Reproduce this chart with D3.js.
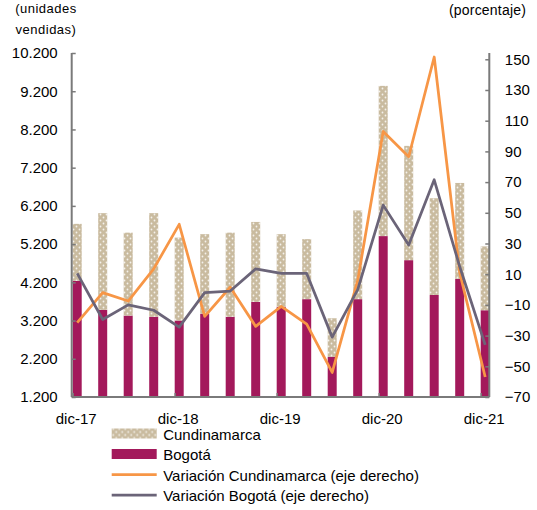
<!DOCTYPE html>
<html>
<head>
<meta charset="utf-8">
<script src="https://cdn.jsdelivr.net/npm/d3@7"></script>
<style>
  body { margin: 0; background: #fff; }
  svg { display: block; font-family: "Liberation Sans", Arial, sans-serif; fill: #000; }
</style>
</head>
<body>
<svg id="chart" width="537" height="510"></svg>
<script>
// Quarterly data, dic-17 .. dic-21
let periods = ["dic-17", "mar-18", "jun-18", "sep-18", "dic-18", "mar-19", "jun-19", "sep-19",
               "dic-19", "mar-20", "jun-20", "sep-20", "dic-20", "mar-21", "jun-21", "sep-21", "dic-21"];
let bogota       = [4240, 3480, 3330, 3300, 3200, 3380, 3300, 3690, 3560, 3760, 2250, 3760, 5410, 4780, 3870, 4290, 3470];
let cundinamarca = [1490, 2530, 2170, 2710, 2170, 2080, 2200, 2090, 1900, 1570, 1010, 2320, 3930, 2990, 2530, 2510, 1670];
let varCund      = [-21.5, -2, -7.5, 13.5, 42.5, -17.5, 1.5, -24, -11, -22.5, -54, 6, 103, 86.5, 151.5, 11, -57];
let varBog       = [10.5, -19.5, -10, -13.5, -24.5, -2, -1, 13.5, 10.5, 10.5, -31, 0, 55, 29, 71.5, 15, -36];

let leftTicks  = [1200, 2200, 3200, 4200, 5200, 6200, 7200, 8200, 9200, 10200];
let rightTicks = [-70, -50, -30, -10, 10, 30, 50, 70, 90, 110, 130, 150];
let xLabels    = ["dic-17", "dic-18", "dic-19", "dic-20", "dic-21"];

let legendItems = [
    {name: "Cundinamarca", type: "pattern"},
    {name: "Bogotá", type: "bar"},
    {name: "Variación Cundinamarca (eje derecho)", type: "orange"},
    {name: "Variación Bogotá (eje derecho)", type: "gray"}
];

// colours
const colBog = "#A3195B";
const colCund = "#C9BB9F";
const colOrange = "#F79646";
const colGray = "#6B6478";
const colAxis = "#7A7A7A";

// plot frame
const plotLeft = 71.7, plotRight = 489.3, plotTop = 53, plotBottom = 397;
const barW = 9;

const svg = d3.select("#chart");

// dotted fill for Cundinamarca
let defs = svg.append("defs");
let pat = defs.append("pattern")
    .attr("id", "dots")
    .attr("width", 6).attr("height", 6)
    .attr("patternUnits", "userSpaceOnUse");
pat.append("rect").attr("width", 6).attr("height", 6).attr("fill", colCund);
pat.append("circle").attr("cx", 1.5).attr("cy", 1.5).attr("r", 0.9).attr("fill", "#fff").attr("opacity", 0.8);
pat.append("circle").attr("cx", 4.5).attr("cy", 4.5).attr("r", 0.9).attr("fill", "#fff").attr("opacity", 0.8);

// scales
let x = d3.scaleLinear().domain([0, periods.length - 1]).range([77.2, 485.2]);
let yLeft = d3.scaleLinear().domain([1200, 10200]).range([plotBottom, plotTop]);
let yRight = d3.scaleLinear().domain([-70, 154.1]).range([plotBottom, plotTop]);

let locale = d3.formatLocale({decimal: ",", thousands: ".", grouping: [3], currency: ["$", ""]});
let fmt = locale.format(",d");

// stacked bars; the axis starts at 1.200 so bars are cut there
let rows = periods.map((p, i) => ({period: p, i: i, bogota: bogota[i], cundinamarca: cundinamarca[i]}));
let stacked = d3.stack().keys(["bogota", "cundinamarca"])(rows);
stacked.forEach(s => s.forEach(d => { d[0] = Math.max(d[0], 1200); }));

svg.append("g").selectAll("g")
    .data(stacked)
    .join("g")
    .attr("fill", d => d.key === "bogota" ? colBog : "url(#dots)")
    .selectAll("rect")
    .data(d => d)
    .join("rect")
    .attr("x", d => x(d.data.i) - barW / 2)
    .attr("width", barW)
    .attr("y", d => yLeft(d[1]))
    .attr("height", d => yLeft(d[0]) - yLeft(d[1]));

// lines
let line = d3.line().x((d, i) => x(i)).y(d => yRight(d));
svg.append("path").datum(varCund)
    .attr("fill", "none").attr("stroke", colOrange)
    .attr("stroke-width", 2.75).attr("stroke-linejoin", "round")
    .attr("d", line);
svg.append("path").datum(varBog)
    .attr("fill", "none").attr("stroke", colGray)
    .attr("stroke-width", 2.75).attr("stroke-linejoin", "round")
    .attr("d", line);

// left axis
let gL = svg.append("g").attr("transform", `translate(${plotLeft},0)`)
    .call(d3.axisLeft(yLeft).tickValues(leftTicks).tickSize(-4).tickPadding(14).tickFormat(fmt));
// right axis
let gR = svg.append("g").attr("transform", `translate(${plotRight},0)`)
    .call(d3.axisRight(yRight).tickValues(rightTicks).tickSize(-4).tickPadding(15.5));
// bottom ticks sit on the left edge of every fourth bar
let gB = svg.append("g").attr("transform", `translate(${-barW / 2},${plotBottom})`)
    .call(d3.axisBottom(x).tickValues([0, 4, 8, 12, 16]).tickSize(-4).tickFormat(""));
gB.select(".domain").remove();

[gL, gR, gB].forEach(g => {
    g.selectAll("line").attr("stroke", colAxis).attr("stroke-width", 1.5);
    g.select(".domain").attr("stroke", colAxis).attr("stroke-width", 2);
    g.selectAll("text").attr("font-size", 15).attr("fill", "#000")
        .attr("font-family", "'Liberation Sans', Arial, sans-serif");
});
gL.select(".domain").attr("d", `M0,${plotTop}V${plotBottom}`);
gR.select(".domain").attr("d", `M0,${plotTop}V${plotBottom}`);

svg.append("line")
    .attr("x1", plotLeft).attr("x2", plotRight)
    .attr("y1", plotBottom).attr("y2", plotBottom)
    .attr("stroke", colAxis).attr("stroke-width", 2);

// x labels under the period ticks
svg.append("g").selectAll("text")
    .data(xLabels)
    .join("text")
    .attr("x", (d, k) => x(k * 4) - 1)
    .attr("y", 424)
    .attr("text-anchor", "middle")
    .attr("font-size", 15)
    .text(d => d);

// axis titles
svg.append("text").attr("x", 46).attr("y", 12.5).attr("text-anchor", "middle")
    .attr("font-size", 13).attr("letter-spacing", 0.5).text("(unidades");
svg.append("text").attr("x", 46).attr("y", 33.5).attr("text-anchor", "middle")
    .attr("font-size", 13).attr("letter-spacing", 0.5).text("vendidas)");
svg.append("text").attr("x", 487.5).attr("y", 15.4).attr("text-anchor", "middle")
    .attr("font-size", 14).attr("letter-spacing", 0.2).text("(porcentaje)");

// legend
let leg = svg.append("g").selectAll("g")
    .data(legendItems)
    .join("g")
    .attr("transform", (d, k) => `translate(111.7,${433.5 + k * 20.5})`);

leg.each(function(d) {
    let g = d3.select(this);
    if (d.type === "pattern" || d.type === "bar") {
        g.append("rect").attr("x", 0).attr("y", -5).attr("width", 45).attr("height", 10)
            .attr("fill", d.type === "bar" ? colBog : "url(#dots)");
    } else {
        g.append("line").attr("x1", 0).attr("x2", 45).attr("y1", 0).attr("y2", 0)
            .attr("stroke", d.type === "orange" ? colOrange : colGray).attr("stroke-width", 2.75);
    }
    g.append("text").attr("x", 51.5).attr("y", 6).attr("font-size", 15).text(d.name);
});
</script>
</body>
</html>
